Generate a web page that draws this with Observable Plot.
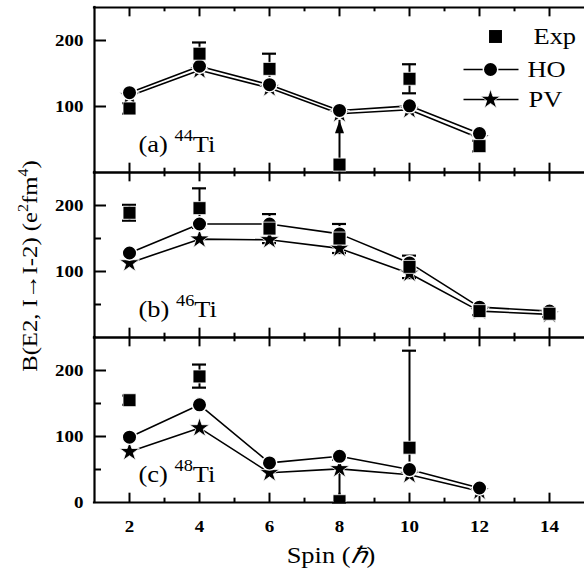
<!DOCTYPE html>
<html><head><meta charset="utf-8">
<script src="https://cdn.jsdelivr.net/npm/d3@7"></script>
<script src="https://cdn.jsdelivr.net/npm/@observablehq/plot@0.6"></script>
<style>body{margin:0;background:#fff}</style>
</head><body><div id="chart"></div>
<script>
// ---------- data ----------
const panels = ["a", "b", "c"];
const massNumbers = [44, 46, 48];
const legendLabels = ["Exp", "HO", "PV"];

const spinsA = [2, 4, 6, 8, 10, 12];
const spinsB = [2, 4, 6, 8, 10, 12, 14];
const spinsC = [2, 4, 6, 8, 10, 12];
const hoA = [121, 161, 133, 94, 101, 59];
const pvA = [116, 155, 128, 89, 95, 52];
const hoB = [128, 172, 172, 157, 113, 46, 40];
const pvB = [113, 149, 148, 135, 97, 40, 35];
const hoC = [99, 148, 60, 70, 50, 22];
const pvC = [77, 113, 45, 51, 42, 17];

const expSpinsA = [2, 4, 6, 8, 10, 12];
const expA   = [97, 180, 157, 12, 142, 40];
const expLoA = [89, 163, 134, 12, 120, 32];
const expHiA = [105, 197, 180, 79, 164, 48];
const expSpinsB = [2, 4, 6, 8, 10, 12, 14];
const expB   = [189, 196, 165, 150, 107, 40, 36];
const expLoB = [177, 166, 143, 128, 90, 34, 31];
const expHiB = [201, 226, 187, 172, 124, 46, 41];
const expSpinsC = [2, 4, 8, 10];
const expC   = [155, 191, 2, 83];
const expLoC = [148, 174, 0, 45];
const expHiC = [162, 209, 65, 230];
// lower-limit points drawn with an arrow
const limitPanels = ["a"];
const limitSpins = [8];

const xDomain = [1, 15];
const yDomain = [0, 250];
const xTicksMajor = [2, 4, 6, 8, 10, 12, 14];
const xTicksMinor = [3, 5, 7, 9, 11, 13];
const yMajorA = [100, 200], yMajorB = [100, 200], yMajorC = [100, 200];
const yMinorA = [], yMinorB = [50, 150], yMinorC = [50, 150];
const yLabelsA = [100, 200], yLabelsB = [100, 200], yLabelsC = [0, 100, 200];

// ---------- tables ----------
const rowsFor = (panel, spins, vals, series) => spins.map((s, i) => ({panel, series, spin: s, v: vals[i]}));
const hoRows = [...rowsFor("a", spinsA, hoA, "HO"), ...rowsFor("b", spinsB, hoB, "HO"), ...rowsFor("c", spinsC, hoC, "HO")];
const pvRows = [...rowsFor("a", spinsA, pvA, "PV"), ...rowsFor("b", spinsB, pvB, "PV"), ...rowsFor("c", spinsC, pvC, "PV")];
const expFor = (panel, spins, v, lo, hi) => spins.map((s, i) => ({
  panel, spin: s, v: v[i], lo: lo[i], hi: hi[i],
  limit: limitPanels.some((p, j) => p === panel && limitSpins[j] === s)
}));
const expRows = [...expFor("a", expSpinsA, expA, expLoA, expHiA), ...expFor("b", expSpinsB, expB, expLoB, expHiB), ...expFor("c", expSpinsC, expC, expLoC, expHiC)];
const limitRows = expRows.filter(d => d.limit);
const capRows = expRows.filter(d => !d.limit);
const tickRows = (lists) => panels.flatMap((p, k) => lists[k].map(v => ({panel: p, v})));
const yMajorRows = tickRows([yMajorA, yMajorB, yMajorC]);
const yMinorRows = tickRows([yMinorA, yMinorB, yMinorC]);
const yLabelRows = tickRows([yLabelsA, yLabelsB, yLabelsC]);
const panelRows = panels.map((p, k) => ({panel: p, mass: massNumbers[k]}));
const legendRows = legendLabels.map(label => ({panel: "a", label}));

// ---------- layout ----------
const W = 584, H = 572, mT = 6, mB = 69, mL = 94, mR = 0;
const facetH = (H - mT - mB) / 3;
const frameW = W - mL - mR;
const FONT = "'Liberation Serif', 'Times New Roman', serif";
const STRETCH = 1.15;

const arrowHead = {draw(ctx) { ctx.moveTo(0, 0); ctx.lineTo(4.5, 13); ctx.lineTo(-4.5, 13); ctx.closePath(); }};
const legendLine = {draw(ctx) { ctx.moveTo(-27, 0); ctx.lineTo(28, 0); }};

const border = {stroke: "black", strokeWidth: 2.2, strokeLinecap: "square"};
const tickStyle = {stroke: "black", strokeWidth: 2};
const capStyle = {stroke: "black", strokeWidth: 2.2, insetLeft: -7, insetRight: -7};
const starStyle = {symbol: "star", r: 6.2, fill: "black", stroke: "white", strokeWidth: 0.8};
const circleStyle = {symbol: "circle", r: 7.2, fill: "black", stroke: "white", strokeWidth: 1.4};
const squareStyle = {symbol: "square", r: 7.3, fill: "black", stroke: "white", strokeWidth: 0.8};

const marks = [
  // frame (left, top, bottom) of each panel
  Plot.ruleY([yDomain[0]], border),
  Plot.ruleY([yDomain[1]], border),
  Plot.ruleX([xDomain[0]], border),
  // inward x ticks, bottom and top of each panel
  Plot.ruleX(xTicksMajor, {...tickStyle, insetTop: facetH - 10}),
  Plot.ruleX(xTicksMajor, {...tickStyle, insetBottom: facetH - 10}),
  Plot.ruleX(xTicksMinor, {...tickStyle, insetTop: facetH - 5}),
  Plot.ruleX(xTicksMinor, {...tickStyle, insetBottom: facetH - 5}),
  // inward y ticks
  Plot.ruleY(yMajorRows, {y: "v", fy: "panel", ...tickStyle, insetRight: frameW - 12}),
  Plot.ruleY(yMinorRows, {y: "v", fy: "panel", ...tickStyle, insetRight: frameW - 7}),
  // y tick labels
  Plot.text(yLabelRows, {y: "v", fy: "panel", text: d => String(d.v), frameAnchor: "left", dx: -11,
    textAnchor: "end", fontWeight: "bold", fontSize: 16.5}),
  // x tick labels
  Plot.axisX(xTicksMajor, {tickSize: 0, tickPadding: 18, fontSize: 16.5, fontWeight: "bold", label: null}),
  // error bars
  Plot.ruleX(expRows, {x: "spin", y1: "lo", y2: "hi", fy: "panel", stroke: "black", strokeWidth: 2}),
  Plot.ruleY(capRows, {y: "hi", x1: "spin", x2: "spin", fy: "panel", ...capStyle}),
  Plot.ruleY(capRows, {y: "lo", x1: "spin", x2: "spin", fy: "panel", ...capStyle}),
  Plot.dot(limitRows, {x: "spin", y: "hi", fy: "panel", symbol: arrowHead, fill: "black", stroke: "none"}),
  // model lines
  Plot.line(pvRows, {x: "spin", y: "v", fy: "panel", stroke: "black", strokeWidth: 1.6}),
  Plot.line(hoRows, {x: "spin", y: "v", fy: "panel", stroke: "black", strokeWidth: 1.6}),
  // markers
  Plot.dot(pvRows, {x: "spin", y: "v", fy: "panel", ...starStyle}),
  Plot.dot(hoRows, {x: "spin", y: "v", fy: "panel", ...circleStyle}),
  Plot.dot(expRows, {x: "spin", y: "v", fy: "panel", ...squareStyle, clip: true}),
  // panel labels
  Plot.text(panelRows, {fy: "panel", text: d => `(${d.panel}) ${d.mass}Ti`, frameAnchor: "bottom-left",
    dx: 44, dy: -21, lineAnchor: "bottom", textAnchor: "start", fontSize: 23}),
  // legend
  Plot.dot(legendRows.slice(0, 1), {fy: "panel", frameAnchor: "top-right", dx: -89, dy: 29, ...squareStyle, stroke: "none"}),
  Plot.dot(legendRows.slice(1, 2), {fy: "panel", frameAnchor: "top-right", dx: -94, dy: 62, symbol: legendLine, fill: "none", stroke: "black", strokeWidth: 1.6}),
  Plot.dot(legendRows.slice(1, 2), {fy: "panel", frameAnchor: "top-right", dx: -94, dy: 62, ...circleStyle}),
  Plot.dot(legendRows.slice(2, 3), {fy: "panel", frameAnchor: "top-right", dx: -94, dy: 92, symbol: legendLine, fill: "none", stroke: "black", strokeWidth: 1.6}),
  Plot.dot(legendRows.slice(2, 3), {fy: "panel", frameAnchor: "top-right", dx: -94, dy: 92, ...starStyle}),
  Plot.text(legendRows.slice(0, 1), {fy: "panel", text: "label", frameAnchor: "top-right", dx: -51, dy: 29, lineAnchor: "middle", textAnchor: "start", fontSize: 23}),
  Plot.text(legendRows.slice(1, 2), {fy: "panel", text: "label", frameAnchor: "top-right", dx: -57, dy: 62, lineAnchor: "middle", textAnchor: "start", fontSize: 23}),
  Plot.text(legendRows.slice(2, 3), {fy: "panel", text: "label", frameAnchor: "top-right", dx: -56, dy: 92, lineAnchor: "middle", textAnchor: "start", fontSize: 23})
];

const svg = Plot.plot({
  width: W, height: H,
  marginTop: mT, marginBottom: mB, marginLeft: mL, marginRight: mR,
  style: {fontFamily: FONT, background: "white", color: "black"},
  x: {domain: xDomain, axis: null},
  y: {domain: yDomain, axis: null},
  fy: {domain: panels, padding: 0, axis: null},
  marks
});

// axis titles
const NS = "http://www.w3.org/2000/svg";
function addText(parent, parts, attrs) {
  const t = document.createElementNS(NS, "text");
  for (const [k, v] of Object.entries(attrs)) t.setAttribute(k, v);
  for (const p of parts) {
    const s = document.createElementNS(NS, "tspan");
    s.textContent = p.text;
    if (p.size) s.setAttribute("font-size", p.size);
    if (p.dy) s.setAttribute("dy", p.dy);
    if (p.italic) s.setAttribute("font-style", "italic");
    t.appendChild(s);
  }
  parent.appendChild(t);
  return t;
}
addText(svg, [{text: "Spin ("}, {text: "ℏ", italic: true}, {text: ")"}],
  {transform: "translate(331,563)", "text-anchor": "middle", "font-size": 23, "font-family": FONT, fill: "black"});
addText(svg, [{text: "B(E2, I→I-2) (e"}, {text: "2", size: 14, dy: -9}, {text: "fm", dy: 9}, {text: "4", size: 14, dy: -9}, {text: ")", dy: 9}],
  {transform: "translate(37,266) rotate(-90)", "text-anchor": "middle", "font-size": 21.5, "font-family": FONT, fill: "black"});

// superscript mass numbers in panel labels
svg.querySelectorAll("text").forEach(t => {
  const m = t.textContent.match(/^\((\w)\) (\d+)Ti$/);
  if (m && t.childElementCount === 0) {
    t.textContent = "";
    const mk = (txt, size, dy) => {
      const s = document.createElementNS(NS, "tspan");
      s.textContent = txt;
      if (size) s.setAttribute("font-size", size);
      if (dy) s.setAttribute("dy", dy);
      t.appendChild(s);
    };
    mk(`(${m[1]}) `);
    mk(m[2], 16, -11);
    mk("Ti", 23, 11);
  }
});

// the reference type is horizontally widened
svg.querySelectorAll("text").forEach(t => {
  const tr = t.getAttribute("transform") || "";
  t.setAttribute("transform", (tr + ` scale(${STRETCH},1)`).trim());
});

document.getElementById("chart").appendChild(svg);
</script>
</body></html>
